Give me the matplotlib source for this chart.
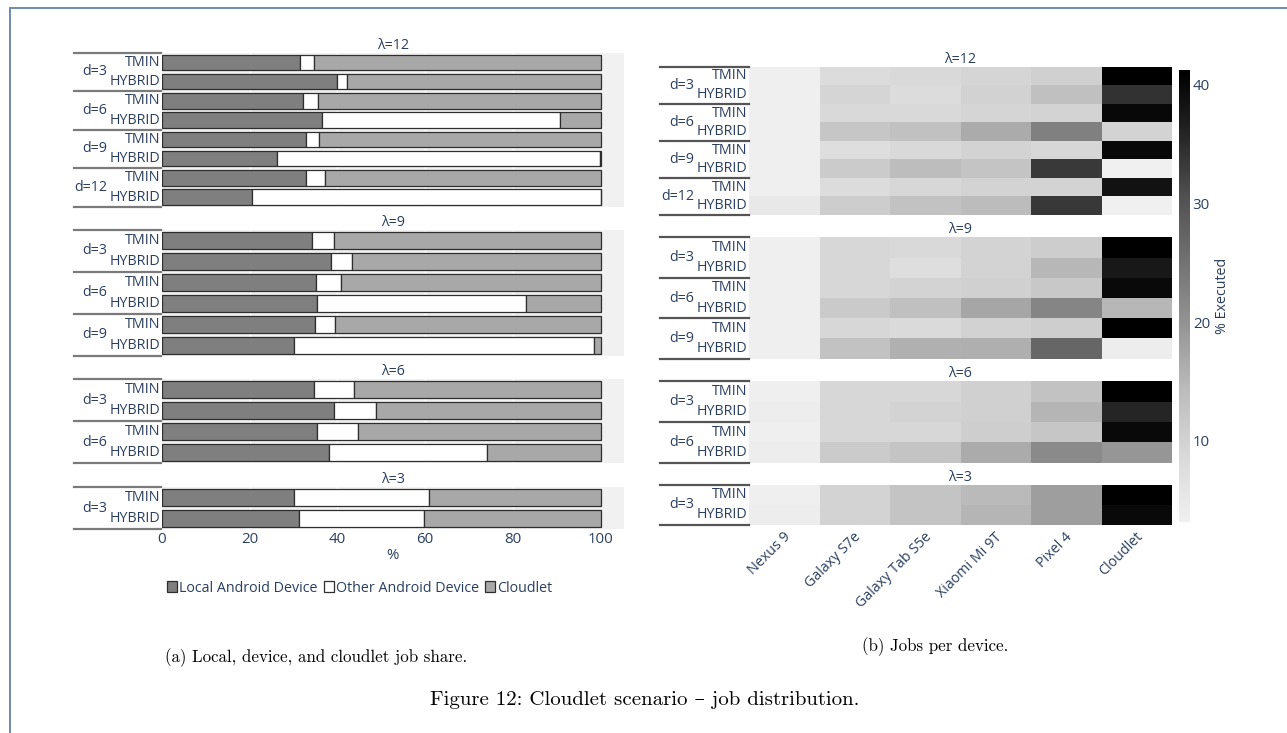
import numpy as np
import matplotlib
matplotlib.use("Agg")
import matplotlib.pyplot as plt
from matplotlib.patches import Patch
from matplotlib.lines import Line2D
from matplotlib.colors import LinearSegmentedColormap
from matplotlib.transforms import blended_transform_factory

# ---------------------------------------------------------------- data
lambdas = [12, 9, 6, 3]
distances = {12: [3, 6, 9, 12], 9: [3, 6, 9], 6: [3, 6], 3: [3]}
strategies = ["TMIN", "HYBRID"]
series_names = ["Local Android Device", "Other Android Device", "Cloudlet"]
devices = ["Nexus 9", "Galaxy S7e", "Galaxy Tab S5e", "Xiaomi Mi 9T", "Pixel 4", "Cloudlet"]
share_ticks = [0, 20, 40, 60, 80, 100]
cbar_ticks = [10, 20, 30, 40]

# job share (%) per row: d=3 TMIN, d=3 HYBRID, d=6 TMIN, ...
local_share = {
    12: [31.4, 39.8, 32.2, 36.4, 32.9, 26.2, 32.9, 20.6],
    9: [34.1, 38.5, 35.0, 35.3, 34.8, 30.2],
    6: [34.6, 39.3, 35.4, 38.0],
    3: [30.0, 31.3],
}
other_share = {
    12: [3.3, 2.4, 3.4, 54.4, 3.0, 73.6, 4.3, 79.4],
    9: [5.1, 4.8, 5.8, 47.7, 4.7, 68.4],
    6: [9.2, 9.6, 9.3, 36.1],
    3: [30.8, 28.4],
}
cloudlet_share = {
    12: [65.3, 57.8, 64.4, 9.2, 64.1, 0.2, 62.8, 0.0],
    9: [60.8, 56.7, 59.2, 17.0, 60.5, 1.4],
    6: [56.2, 51.1, 55.3, 25.9],
    3: [39.2, 40.3],
}

# % of jobs executed per device, same row order
executed = {
    12: [[3.4, 7.9, 8.6, 9.4, 10.4, 41.2],
         [3.4, 9.4, 7.9, 10.0, 13.5, 34.1],
         [3.4, 8.6, 8.6, 9.4, 9.8, 40.0],
         [3.4, 12.3, 13.3, 16.6, 22.9, 9.8],
         [3.4, 7.6, 8.6, 9.8, 9.0, 39.9],
         [3.4, 11.3, 14.1, 12.7, 33.2, 3.2],
         [3.4, 7.9, 9.0, 9.8, 9.8, 38.5],
         [5.1, 11.0, 13.1, 14.2, 33.4, 3.2]],
    9: [[3.4, 9.0, 8.6, 9.8, 11.0, 41.2],
        [3.4, 9.0, 7.6, 9.8, 14.8, 37.5],
        [3.4, 9.0, 9.8, 10.4, 12.0, 39.8],
        [3.4, 11.6, 13.5, 17.2, 22.1, 14.8],
        [3.4, 9.0, 8.4, 10.0, 10.9, 41.2],
        [3.4, 13.2, 15.9, 16.0, 27.0, 3.9]],
    6: [[3.4, 9.0, 9.0, 10.4, 13.0, 41.2],
        [3.8, 9.0, 9.8, 10.4, 15.2, 35.8],
        [3.4, 9.0, 9.0, 10.9, 12.3, 39.8],
        [3.8, 11.5, 12.7, 16.6, 21.4, 19.5]],
    3: [[3.4, 9.8, 12.7, 14.5, 18.4, 41.2],
        [3.9, 9.8, 12.7, 15.2, 18.4, 39.8]],
}

# ---------------------------------------------------------------- style
W, H = 1287, 733
TXT = "#2a3f5f"
FS = 10.3
FS_TICK = 10.8
BAR_COLORS = ["#7f7f7f", "#ffffff", "#a8a8a8"]
plt.rcParams["font.family"] = ["Open Sans", "DejaVu Sans"]

fig = plt.figure(figsize=(W / 100, H / 100), dpi=100)


def px_axes(x0, y0, x1, y1):
    return fig.add_axes([x0 / W, 1 - y1 / H, (x1 - x0) / W, (y1 - y0) / H])


def row_labels(ax, lam, x_strat, x_dist, x_line0, x_line1, line_color):
    trans = blended_transform_factory(fig.transFigure, ax.transData)
    ds = distances[lam]
    for gi, d in enumerate(ds):
        for si, s in enumerate(strategies):
            ax.text(x_strat / W, gi * 2 + si, s, transform=trans, ha="right",
                    va="center", fontsize=FS, color=TXT, clip_on=False)
        ax.text(x_dist / W, gi * 2 + 0.5, f"d={d}", transform=trans, ha="right",
                va="center", fontsize=FS, color=TXT, clip_on=False)
    for b in range(len(ds) + 1):
        ax.add_line(Line2D([x_line0 / W, x_line1 / W], [b * 2 - 0.5, b * 2 - 0.5],
                           transform=trans, color=line_color, lw=1.6, clip_on=False))


# ---------------------------------------------------------------- (a) stacked bars
bar_boxes = {12: (52.7, 206.7), 9: (230, 355.7), 6: (379, 463), 3: (487, 529)}
for lam in lambdas:
    y0, y1 = bar_boxes[lam]
    ax = px_axes(162, y0, 623.7, y1)
    ax.set_facecolor("#f1f1f1")
    n = len(local_share[lam])
    ypos = np.arange(n)
    for g in [20, 40, 60, 80]:
        ax.axvline(g, color="white", lw=1, zorder=0)
    left = np.zeros(n)
    for vals, col in zip([local_share[lam], other_share[lam], cloudlet_share[lam]], BAR_COLORS):
        vals = np.array(vals)
        ax.barh(ypos, vals, left=left, height=0.8, color=col, edgecolor="#2e2e2e",
                linewidth=0.9, zorder=2)
        left = left + vals
    ax.set_xlim(0, 105.26)
    ax.set_ylim(n - 0.5, -0.5)
    for sp in ax.spines.values():
        sp.set_visible(False)
    ax.set_yticks([])
    if lam == 3:
        ax.set_xticks(share_ticks)
        ax.tick_params(axis="x", length=0, labelsize=FS_TICK, labelcolor=TXT, pad=2)
        ax.set_xlabel("%", fontsize=FS_TICK, color=TXT, labelpad=1)
    else:
        ax.set_xticks([])
    ax.set_title(f"λ={lam}", fontsize=FS, color=TXT, pad=2.5)
    row_labels(ax, lam, 160, 107, 73.5, 161, "#7a7a7a")

handles = [Patch(facecolor=c, edgecolor="#2e2e2e", linewidth=0.9) for c in BAR_COLORS]
fig.legend(handles, series_names, loc="center left", bbox_to_anchor=(160 / W, 1 - 588 / H),
           ncol=3, frameon=False, fontsize=FS, labelcolor=TXT, handlelength=0.7,
           handleheight=0.7, handletextpad=0.12, columnspacing=0.45, borderpad=0)

# ---------------------------------------------------------------- (b) heatmaps
greys = ["#f0f0f0", "#d9d9d9", "#bdbdbd", "#969696", "#737373", "#525252", "#252525", "#000000"]
cmap = LinearSegmentedColormap.from_list("greys_soft", greys)
vmin, vmax = 3.2, 41.2

heat_boxes = {12: (66.7, 215), 9: (237.3, 358.7), 6: (381.3, 462.7), 3: (485, 524.7)}
mesh = None
for lam in lambdas:
    y0, y1 = heat_boxes[lam]
    ax = px_axes(749, y0, 1172, y1)
    vals = np.array(executed[lam])
    n = vals.shape[0]
    mesh = ax.pcolormesh(np.arange(len(devices) + 1) - 0.5, np.arange(n + 1) - 0.5, vals,
                         cmap=cmap, vmin=vmin, vmax=vmax, shading="flat")
    ax.set_xlim(-0.5, len(devices) - 0.5)
    ax.set_ylim(n - 0.5, -0.5)
    for sp in ax.spines.values():
        sp.set_visible(False)
    ax.set_xticks([])
    ax.set_yticks([])
    ax.set_title(f"λ={lam}", fontsize=FS, color=TXT, pad=2.5)
    row_labels(ax, lam, 747, 694.5, 660, 749, "#555555")
    if lam == 3:
        trans = blended_transform_factory(ax.transData, fig.transFigure)
        for i, name in enumerate(devices):
            ax.text(i + 0.06, 1 - 535 / H, name, transform=trans, rotation=45,
                    rotation_mode="anchor", ha="right", va="center", fontsize=FS,
                    color=TXT, clip_on=False)

cax = px_axes(1179, 70, 1190, 521.7)
cb = fig.colorbar(mesh, cax=cax, ticks=cbar_ticks)
cb.outline.set_visible(False)
cax.tick_params(length=0, labelsize=FS_TICK, labelcolor=TXT, pad=2)
fig.text(1222 / W, 1 - 296 / H, "% Executed", rotation=90, ha="center", va="center",
         fontsize=FS, color=TXT)

# ---------------------------------------------------------------- captions and frame
cap_font = ["cmr10", "DejaVu Serif"]
fig.text(316 / W, 1 - 658 / H, "(a) Local, device, and cloudlet job share.",
         ha="center", va="center", fontsize=12.2, family=cap_font, color="black")
fig.text(935 / W, 1 - 647 / H, "(b) Jobs per device.", ha="center", va="center",
         fontsize=12.2, family=cap_font, color="black")
fig.text(645 / W, 1 - 700 / H, "Figure 12: Cloudlet scenario – job distribution.",
         ha="center", va="center", fontsize=15, family=cap_font, color="black")

frame_col = "#6f8cb0"
fig.add_artist(Line2D([10 / W, 10 / W], [1 - 7.5 / H, 0], transform=fig.transFigure,
                      color=frame_col, lw=1.4))
fig.add_artist(Line2D([10 / W, 1], [1 - 7.5 / H, 1 - 7.5 / H], transform=fig.transFigure,
                      color=frame_col, lw=1.4))

fig.savefig("out.png", dpi=100)
